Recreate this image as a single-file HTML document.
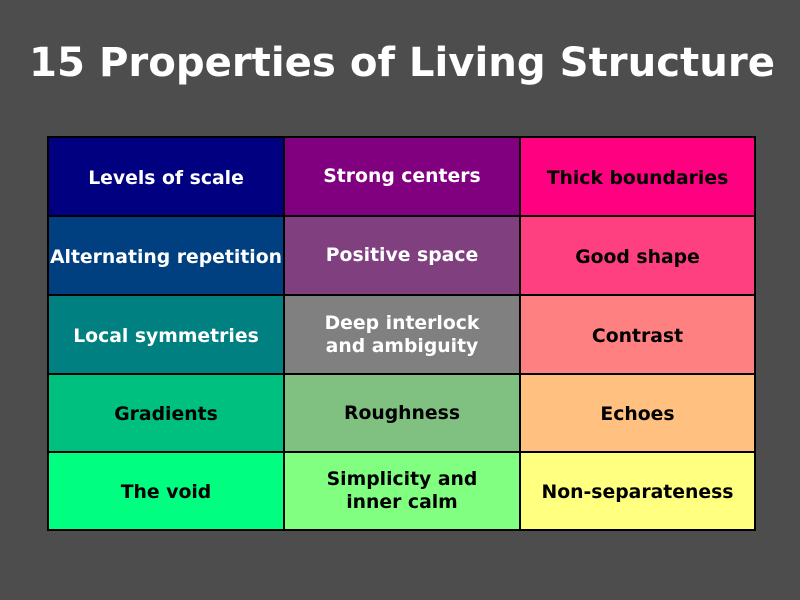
<!DOCTYPE html>
<html><head><style>
body{margin:0;width:800px;height:600px;background:#4d4d4d;position:relative;overflow:hidden;font-family:"DejaVu Sans","Liberation Sans",sans-serif;font-weight:bold}
h1{position:absolute;top:37px;left:2px;width:800px;text-align:center;margin:0;color:#fff;font-size:40.2px;line-height:52px}
.c{position:absolute;box-sizing:border-box;border:2px solid #000;display:flex;align-items:center;justify-content:center;text-align:center;font-size:18.8px;line-height:23px;padding-top:3px;white-space:nowrap}
.w{color:#fff}
</style></head><body>
<h1>15 Properties of Living Structure</h1>
<div class="c w" style="left:47px;top:136px;width:238px;height:81px;background:#000080">Levels of scale</div>
<div class="c w" style="left:283px;top:136px;width:238px;height:81px;background:#800080;padding-top:0">Strong centers</div>
<div class="c" style="left:519px;top:136px;width:237px;height:81px;background:#ff0080">Thick boundaries</div>
<div class="c w" style="left:47px;top:215px;width:238px;height:81px;background:#004080">Alternating repetition</div>
<div class="c w" style="left:283px;top:215px;width:238px;height:81px;background:#804080;padding-top:0">Positive space</div>
<div class="c" style="left:519px;top:215px;width:237px;height:81px;background:#ff4080">Good shape</div>
<div class="c w" style="left:47px;top:294px;width:238px;height:81px;background:#008080">Local symmetries</div>
<div class="c w" style="left:283px;top:294px;width:238px;height:81px;background:#808080;padding-top:0">Deep interlock<br>and ambiguity</div>
<div class="c" style="left:519px;top:294px;width:237px;height:81px;background:#ff8080">Contrast</div>
<div class="c" style="left:47px;top:373px;width:238px;height:80px;background:#00c080">Gradients</div>
<div class="c" style="left:283px;top:373px;width:238px;height:80px;background:#80c080;padding-top:0">Roughness</div>
<div class="c" style="left:519px;top:373px;width:237px;height:80px;background:#ffc080">Echoes</div>
<div class="c" style="left:47px;top:451px;width:238px;height:80px;background:#00ff80">The void</div>
<div class="c" style="left:283px;top:451px;width:238px;height:80px;background:#80ff80;padding-top:0">Simplicity and<br>inner calm</div>
<div class="c" style="left:519px;top:451px;width:237px;height:80px;background:#ffff80">Non-separateness</div>
</body></html>
